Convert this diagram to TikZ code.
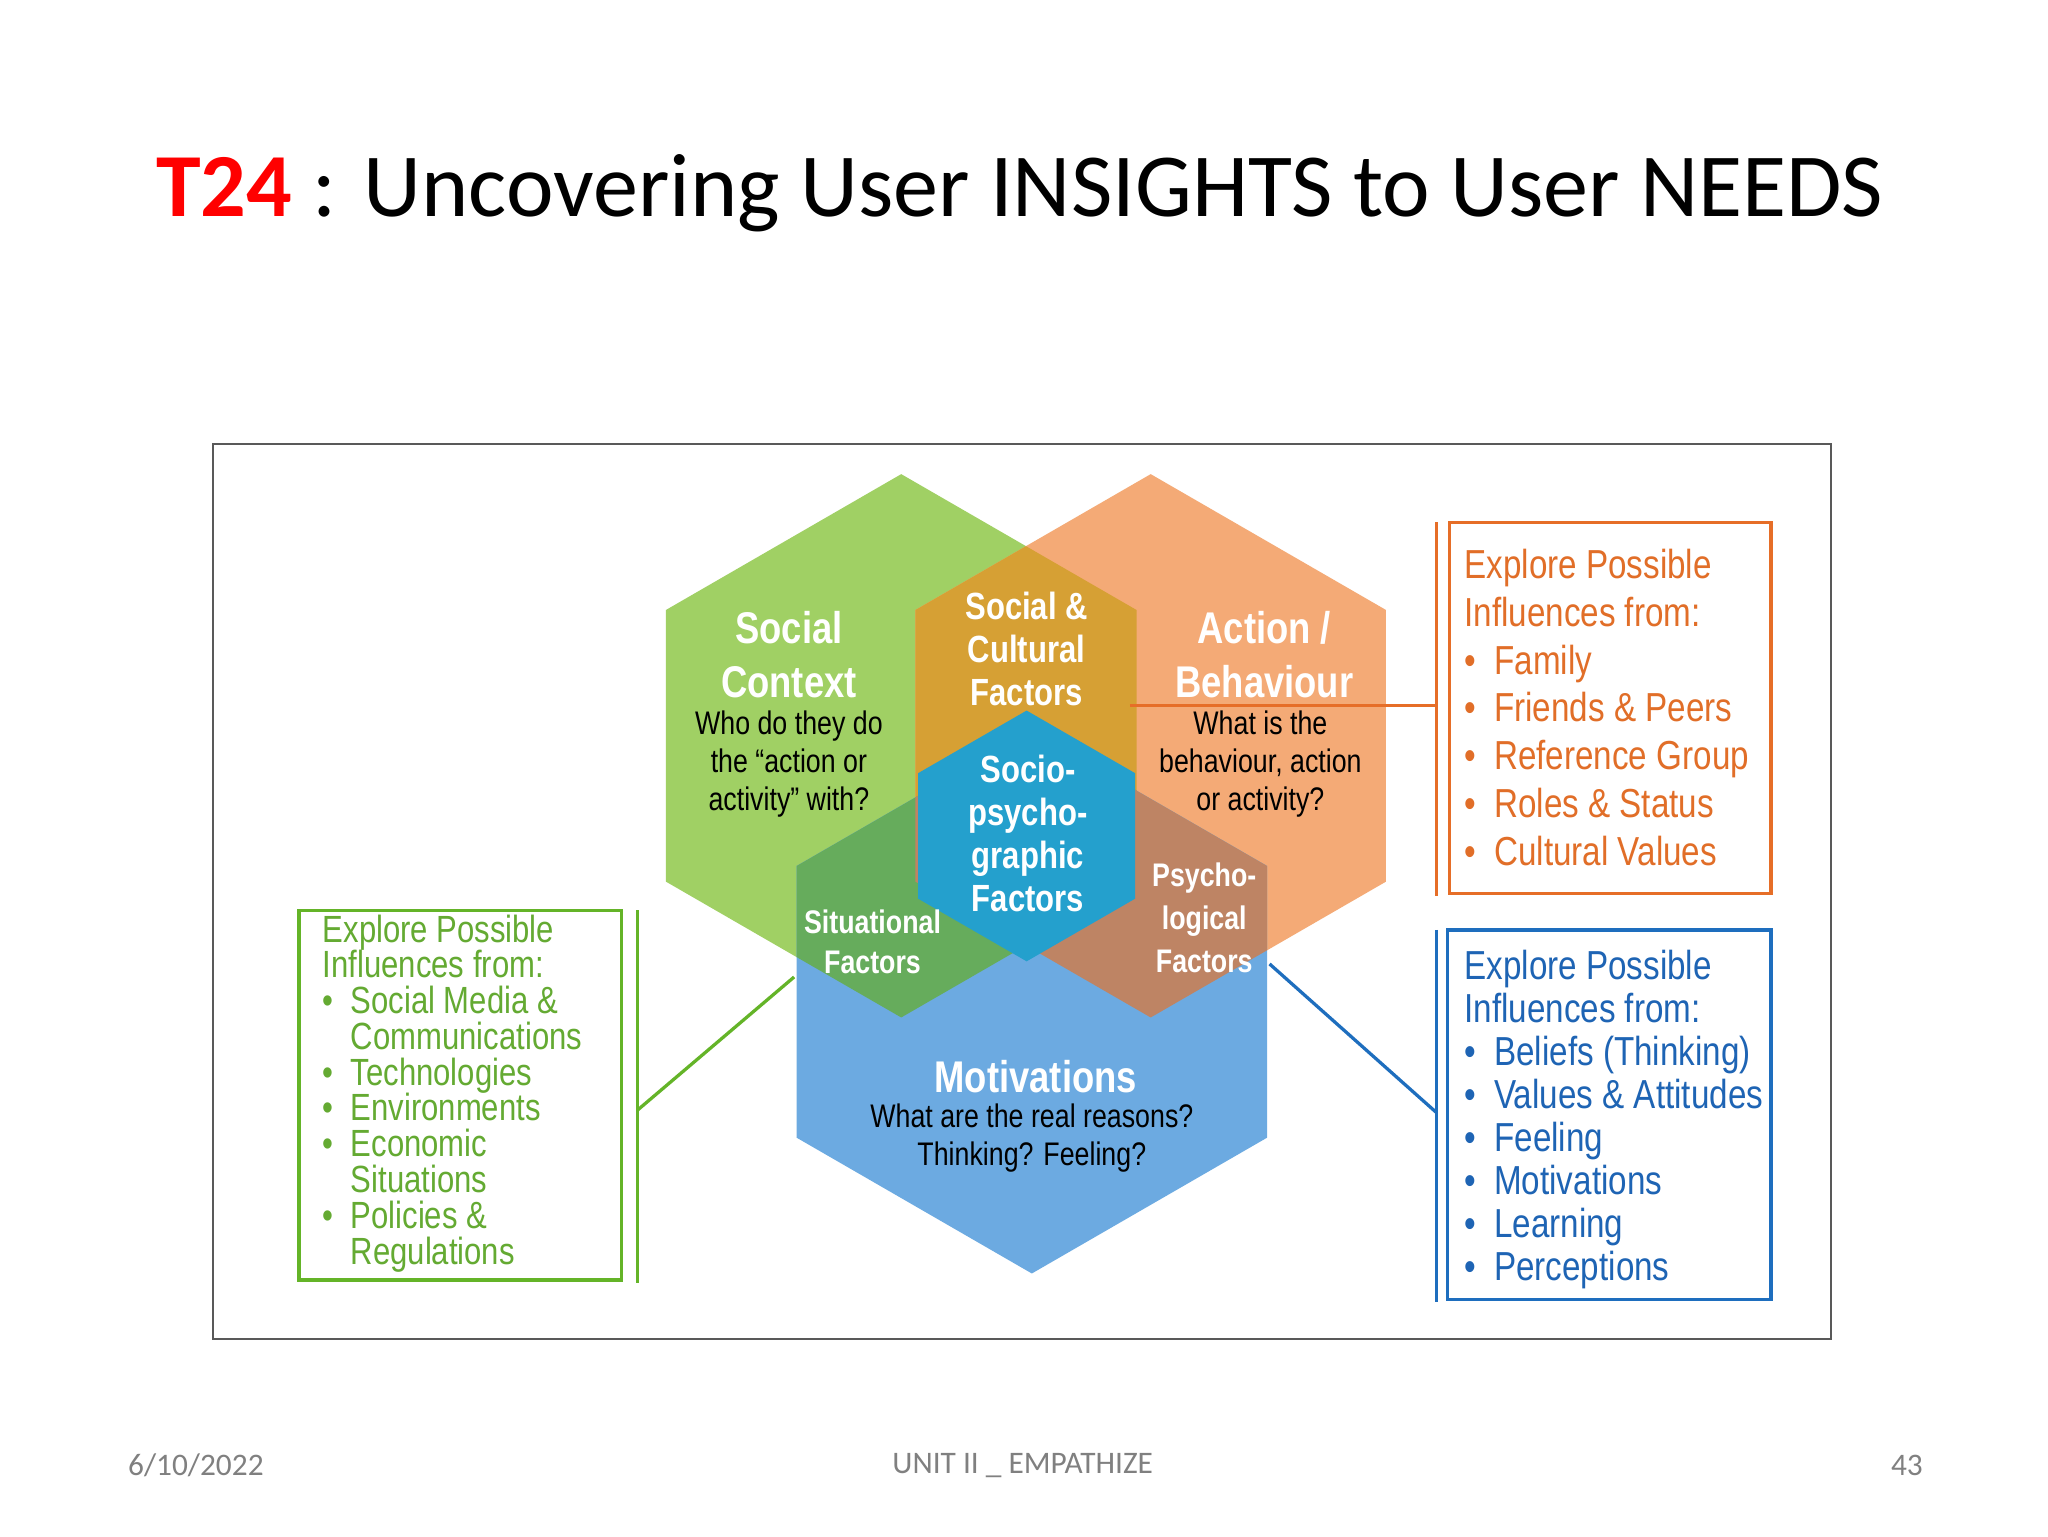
\documentclass[tikz,border=0pt]{standalone}
\usepackage{fontspec}
\setmainfont{Carlito}
\newfontfamily\nar[FakeStretch=0.82]{Liberation Sans}
\definecolor{hgreen}{RGB}{160,208,100}
\definecolor{horange}{RGB}{244,170,118}
\definecolor{hblue}{RGB}{108,170,225}
\definecolor{hgold}{RGB}{214,160,52}
\definecolor{hdgreen}{RGB}{102,172,92}
\definecolor{hbrown}{RGB}{190,132,100}
\definecolor{hcyan}{RGB}{36,160,205}
\definecolor{bgreen}{RGB}{100,180,40}
\definecolor{borange}{RGB}{230,110,40}
\definecolor{bblue}{RGB}{30,110,190}
\definecolor{tgreen}{RGB}{100,170,50}
\definecolor{torange}{RGB}{225,110,40}
\definecolor{tblue}{RGB}{30,100,180}
\newcommand\hexp[3]{(#1,#2) +(90:#3) -- +(30:#3) -- +(-30:#3) -- +(-90:#3) -- +(-150:#3) -- +(150:#3) -- cycle}
\tikzset{
 wt/.style={text=white,font=\nar\bfseries,align=center,inner sep=0},
 bt/.style={text=black,font=\nar,align=center,inner sep=0},
 box/.style={line width=2.5pt},
 bl/.style={font=\nar\fontsize{30}{36.7}\selectfont,align=left,anchor=north west,inner sep=0},
}
\newcommand\bu{\textbullet\hspace{0.45em}}
\newcommand\bs{\phantom{\textbullet}\hspace{0.45em}}
\begin{document}
\begin{tikzpicture}[x=1pt,y=-1pt]
\useasboundingbox (0,0) rectangle (1568,1176);
\fill[white] (0,0) rectangle (1568,1176);
\node[anchor=west,font=\fontsize{69}{76}\selectfont] (title) at (116,148) {\textcolor{red}{\bfseries T24} : Uncovering User INSIGHTS to User NEEDS};
\draw[gray!70!black,line width=1.2pt] (163,340) rectangle (1402,1025);
% hexagons
\fill[hgreen] \hexp{690}{571}{208};
\fill[horange] \hexp{881}{571}{208};
\fill[hblue] \hexp{790}{767}{208};
\begin{scope}\clip \hexp{690}{571}{208}; \fill[hgold] \hexp{881}{571}{208}; \end{scope}
\begin{scope}\clip \hexp{690}{571}{208}; \fill[hdgreen] \hexp{790}{767}{208}; \end{scope}
\begin{scope}\clip \hexp{881}{571}{208}; \fill[hbrown] \hexp{790}{767}{208}; \end{scope}
\fill[hcyan] \hexp{786}{640}{96};
% texts in hexes
\node[wt,font=\nar\bfseries\fontsize{34}{41}\selectfont] (sc) at (604,501) {Social\\Context};
\node[bt,font=\nar\fontsize{25}{29}\selectfont] (scq) at (604,585) {Who do they do\\the “action or\\activity” with?};
\node[wt,font=\nar\bfseries\fontsize{29}{33}\selectfont] (scf) at (786,497) {Social \&\\Cultural\\Factors};
\node[wt,font=\nar\bfseries\fontsize{34}{41}\selectfont] (ab) at (968,501) {Action /\\Behaviour};
\node[bt,font=\nar\fontsize{25}{29}\selectfont] (abq) at (965,585) {What is the\\behaviour, action\\or activity?};
\node[wt,font=\nar\bfseries\fontsize{29}{33}\selectfont] (spg) at (787,638) {Socio-\\psycho-\\graphic\\Factors};
\node[wt,font=\nar\bfseries\fontsize{25}{31}\selectfont] (sit) at (668,721) {Situational\\Factors};
\node[wt,font=\nar\bfseries\fontsize{25}{33}\selectfont] (psy) at (922,703) {Psycho-\\logical\\Factors};
\node[wt,font=\nar\bfseries\fontsize{34}{41}\selectfont] (mot) at (793,824) {Motivations};
\node[bt,font=\nar\fontsize{25}{29}\selectfont] (motq) at (790,871) {What are the real reasons?\\Thinking? Feeling?};
% left green box
\draw[bgreen,box] (229,697) rectangle (476,980);
\draw[bgreen,box] (488,697) -- (488,982);
\coordinate (lc) at (488,850);
\coordinate (lh) at (608,748);
\draw[bgreen,box] (lc) -- (lh);
\node[bl,text=tgreen,font=\nar\fontsize{29}{27.4}\selectfont] (lt) at (247,700) {Explore Possible\\Influences from:\\\bu Social Media \&\\\bs Communications\\\bu Technologies\\\bu Environments\\\bu Economic\\\bs Situations\\\bu Policies \&\\\bs Regulations};
% right orange box
\draw[borange,box] (1110,400) rectangle (1356,684);
\draw[borange,box] (1100,400) -- (1100,686);
\coordinate (oc) at (1100,540);
\coordinate (oh) at (865,540);
\draw[borange,box] (oh) -- (oc);
\node[bl,text=torange,font=\nar\fontsize{31}{36.7}\selectfont] (ot) at (1121,420) {Explore Possible\\Influences from:\\\bu Family\\\bu Friends \& Peers\\\bu Reference Group\\\bu Roles \& Status\\\bu Cultural Values};
% right blue box
\draw[bblue,box] (1108,712) rectangle (1356,995);
\draw[bblue,box] (1100,712) -- (1100,997);
\coordinate (bc) at (1100,852);
\coordinate (bh) at (972,738);
\draw[bblue,box] (bh) -- (bc);
\node[bl,text=tblue,font=\nar\fontsize{31}{33}\selectfont] (btx) at (1121,727) {Explore Possible\\Influences from:\\\bu Beliefs (Thinking)\\\bu Values \& Attitudes\\\bu Feeling\\\bu Motivations\\\bu Learning\\\bu Perceptions};
% footer
\node[text=gray,font=\fontsize{24}{28}\selectfont] (d) at (150,1122) {6/10/2022};
\node[text=gray,font=\fontsize{24}{28}\selectfont] (u) at (783,1122) {UNIT II \_ EMPATHIZE};
\node[text=gray,font=\fontsize{24}{28}\selectfont] (n) at (1460,1122) {43};
\end{tikzpicture}
\end{document}
